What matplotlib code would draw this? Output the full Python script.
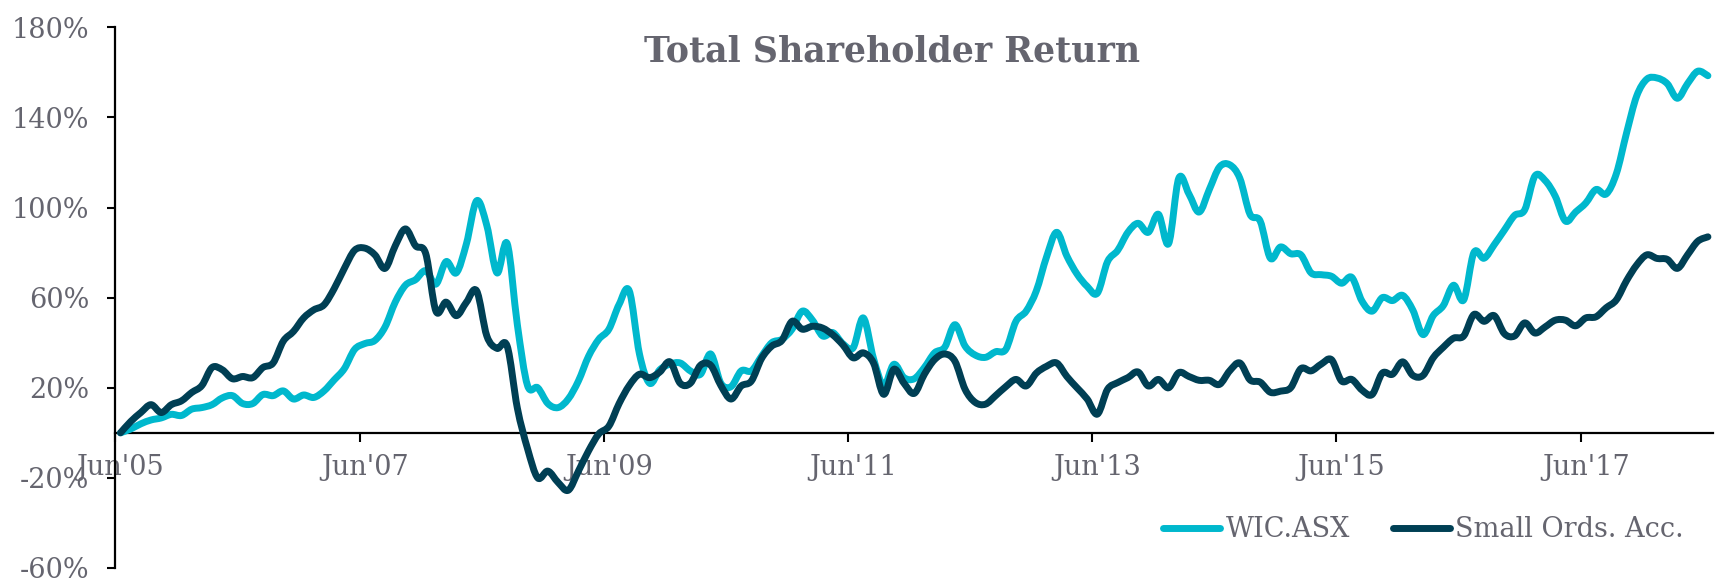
import numpy as np
import matplotlib.pyplot as plt
from matplotlib.path import Path
from matplotlib.patches import PathPatch
from matplotlib.lines import Line2D

plt.rcParams['font.family'] = ['DejaVu Serif']

# monthly total shareholder return, %, Jun'05 .. Jun'18
wic = [0, 1.7, 4, 5.7, 6.6, 8.2, 7.7, 10.5, 11.2, 12.5,
       15.5, 16.5, 13, 13, 17, 16.5, 18.6, 15, 16.8, 15.7,
       18.6, 23.5, 28.5, 37, 39.6, 41, 47, 58, 65.5, 68,
       72, 66, 76, 71, 84, 103, 92, 71, 84, 48,
       21, 20, 13, 11.2, 15, 23, 34, 41.5, 46, 57,
       63, 35, 22, 28, 30.5, 31, 27.5, 26, 35, 22,
       20.5, 27.5, 27.5, 34, 40, 41.5, 46, 54, 50, 43,
       44.5, 39.5, 37.7, 51, 33, 21, 30.4, 24.5, 24, 29,
       35.5, 38, 48, 38.5, 34.5, 33.5, 36, 37, 49.5, 54,
       63, 78, 89, 78.5, 70.5, 65, 62, 76, 81, 89,
       93, 89, 97, 84, 113, 106, 98, 108, 118, 119,
       113, 97, 94, 77.5, 82.5, 79.5, 79, 71, 70.2, 69.5,
       66.4, 69, 58.5, 54, 60, 58.7, 61, 54.5, 43.6, 52,
       56.5, 65.5, 59, 80, 77.5, 83.5, 90, 96.5, 99, 114,
       112, 105, 94, 98, 102, 108, 106, 115, 133, 149.5,
       157, 157.5, 155, 148.5, 155, 160.5, 158.5]

small_ords = [0, 5, 9, 12.5, 9, 12.5, 14.2, 17.9, 21, 29,
              28, 24, 25, 24.5, 29, 31, 40.7, 45, 51, 54.6,
              56.8, 64, 73, 81, 82, 79, 73, 83, 90.5, 83,
              79.5, 54, 58, 52, 58, 63, 43, 37.5, 38.5, 11,
              -7, -20, -17, -22, -25.5, -17, -8, -0.5, 3, 13,
              21, 26, 24.5, 27, 31.5, 22, 22, 30, 30, 21,
              15, 20.8, 23, 33, 38.5, 41, 49.5, 46, 47.3, 46.5,
              43.5, 39, 33.3, 35.5, 31, 17.1, 28.2, 22, 17.5, 26,
              32.5, 35, 31.8, 19.3, 13.5, 12.7, 16.5, 20.5, 23.7, 20.8,
              26.5, 29.5, 31, 25, 20, 15, 8.3, 19.3, 22.3, 24.5,
              27, 20.8, 23.7, 20, 26.7, 25, 23.3, 23.3, 21.5, 27.5,
              31, 23.5, 22.5, 18, 18.5, 20, 28.5, 27.5, 30.5, 32.5,
              23, 23.7, 19, 17, 26.5, 26, 31.5, 25.5, 25.5, 33.3,
              38, 42, 43, 52.5, 49.5, 52, 44, 43, 48.8, 44.3,
              47, 50, 50, 47.5, 51, 51.5, 55.5, 59, 67.5, 74.5,
              79, 77.4, 77, 73, 79, 85, 87]

x_labels = ["Jun'05", "Jun'07", "Jun'09", "Jun'11", "Jun'13", "Jun'15", "Jun'17"]
y_ticks = [-60, -20, 20, 60, 100, 140, 180]

cyan = '#00b8cd'
navy = '#003f54'
grey = '#65656f'


def smooth_path(x, y):
    # excel style smoothed line: cubic bezier through every point
    pts = np.column_stack([x, y])
    n = len(pts)
    verts = [pts[0]]
    codes = [Path.MOVETO]
    for i in range(n - 1):
        p0 = pts[max(i - 1, 0)]
        p1 = pts[i]
        p2 = pts[i + 1]
        p3 = pts[min(i + 2, n - 1)]
        verts += [p1 + (p2 - p0) / 6, p2 - (p3 - p1) / 6, p2]
        codes += [Path.CURVE4] * 3
    return Path(verts, codes)


fig = plt.figure(figsize=(17.17, 5.84), dpi=100)
ax = fig.add_axes([115.4 / 1717, 1 - 568 / 584, (1713 - 115.4) / 1717, (568 - 27.3) / 584])

n = len(wic)
xs = np.arange(n) + 0.5
for vals, col in [(wic, cyan), (small_ords, navy)]:
    ax.add_patch(PathPatch(smooth_path(xs, np.array(vals)), fill=False, edgecolor=col,
                           lw=5, capstyle='round', joinstyle='round', zorder=3))

ax.set_xlim(0, n)
ax.set_ylim(-60, 180)

for s in ['top', 'right']:
    ax.spines[s].set_visible(False)
ax.spines['bottom'].set_position(('data', 0))
ax.spines['left'].set_linewidth(1.6)
ax.spines['bottom'].set_linewidth(1.6)

ax.set_yticks(y_ticks)
ax.set_yticklabels([f'{v}%' for v in y_ticks])
ax.tick_params(axis='y', length=6, width=1.5, pad=13, labelsize=19.5, labelcolor=grey)

ax.set_xticks(np.arange(0, n, 24))
ax.set_xticklabels([])
ax.set_xticks(np.arange(0, n, 24) + 0.5, minor=True)
ax.set_xticklabels(x_labels, minor=True)
ax.tick_params(axis='x', which='major', length=6.5, width=1.5)
ax.tick_params(axis='x', which='minor', length=0, pad=15, labelsize=19.5, labelcolor=grey)

fig.text(892 / 1717, 1 - 61 / 584, 'Total Shareholder Return', ha='center', va='baseline',
         fontsize=25, fontweight='bold', color=grey)

handles = [Line2D([], [], color=cyan, lw=5, solid_capstyle='round', label='WIC.ASX'),
           Line2D([], [], color=navy, lw=5, solid_capstyle='round', label='Small Ords. Acc.')]
ax.legend(handles=handles, loc='center right', bbox_to_anchor=(0.995, 0.093),
          bbox_transform=fig.transFigure, ncol=2, frameon=False, fontsize=19.5,
          labelcolor=grey, handlelength=2.1, handletextpad=0.2, columnspacing=1.6)

fig.savefig('out.png', dpi=100)
